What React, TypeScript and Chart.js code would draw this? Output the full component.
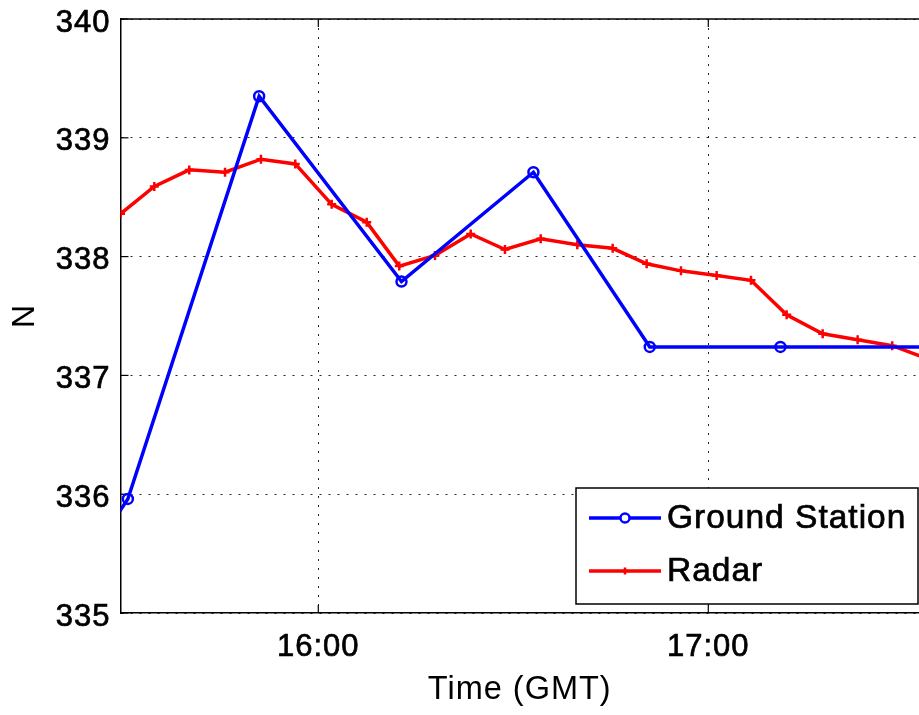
import React, { useEffect, useRef } from 'react';
import { Chart, registerables } from 'chart.js';

Chart.register(...registerables);

// time axis values are minutes after 15:00 GMT
const radarTimes = [29.57, 34.77, 40.15, 45.65, 51.18, 56.46, 62.06, 67.45, 72.46, 77.95, 83.45, 88.72, 94.22, 99.85, 105.29, 110.52, 115.8, 121.29, 126.57, 132.06, 137.6, 142.98, 148.3, 153.7];
const radarN = [338.36, 338.59, 338.73, 338.71, 338.82, 338.78, 338.44, 338.29, 337.92, 338.01, 338.19, 338.06, 338.15, 338.1, 338.07, 337.94, 337.88, 337.84, 337.8, 337.51, 337.35, 337.3, 337.25, 337.14];
const groundTimes = [10.7, 30.7, 50.9, 72.8, 93.1, 111.0, 131.1, 156.0];
const groundN = [334.3, 335.96, 339.35, 337.79, 338.71, 337.24, 337.24, 337.24];
const xTickValues = [60, 120];
const xTickLabels = ['16:00', '17:00'];
const yTickValues = [335, 336, 337, 338, 339, 340];
const xMin = 29.57;
const xMax = 152.42;
const yMin = 335;
const yMax = 340;

const FONT = '"Liberation Sans", Arial, Helvetica, sans-serif';

const spacingPlugin = {
  id: 'letterSpacing',
  beforeLayout(chart: any) {
    (chart.ctx as any).letterSpacing = '1px';
  },
  beforeDraw(chart: any) {
    (chart.ctx as any).letterSpacing = '1px';
  },
};

const framePlugin = {
  id: 'matlabFrame',
  beforeDatasetsDraw(chart: any) {
    const { ctx, chartArea, scales } = chart;
    const { left, right, top, bottom } = chartArea;
    ctx.save();
    ctx.strokeStyle = '#000';
    ctx.lineWidth = 1.5;
    ctx.beginPath();
    ctx.moveTo(left, top);
    ctx.lineTo(right + 2, top);
    ctx.stroke();
    ctx.lineWidth = 1.2;
    const tl = 8;
    xTickValues.forEach((v) => {
      const px = scales.x.getPixelForValue(v);
      ctx.beginPath();
      ctx.moveTo(px, bottom);
      ctx.lineTo(px, bottom - tl);
      ctx.moveTo(px, top);
      ctx.lineTo(px, top + tl);
      ctx.stroke();
    });
    yTickValues.forEach((v) => {
      const py = scales.y.getPixelForValue(v);
      ctx.beginPath();
      ctx.moveTo(left, py);
      ctx.lineTo(left + tl, py);
      ctx.stroke();
    });
    ctx.restore();
  },
};

const legendPlugin = {
  id: 'matlabLegend',
  afterDraw(chart: any) {
    const { ctx, chartArea } = chart;
    const w = 342;
    const h = 116;
    const right = chartArea.right - 1;
    const bottom = chartArea.bottom - 9;
    const left = right - w;
    const top = bottom - h;
    ctx.save();
    ctx.letterSpacing = '1px';
    ctx.fillStyle = '#fff';
    ctx.fillRect(left, top, w, h);
    ctx.strokeStyle = '#000';
    ctx.lineWidth = 1.5;
    ctx.strokeRect(left, top, w, h);
    const rows = [30, 83];
    chart.data.datasets.forEach((ds: any, i: number) => {
      const y = top + rows[i];
      ctx.strokeStyle = ds.borderColor;
      ctx.lineWidth = 3.5;
      ctx.beginPath();
      ctx.moveTo(left + 13, y);
      ctx.lineTo(left + 85, y);
      ctx.stroke();
      const cx = left + 49;
      ctx.lineWidth = 2.5;
      if (ds.pointStyle === 'circle') {
        ctx.beginPath();
        ctx.arc(cx, y, 4.5, 0, Math.PI * 2);
        ctx.fillStyle = '#fff';
        ctx.fill();
        ctx.stroke();
      } else {
        ctx.beginPath();
        ctx.moveTo(cx - 3.5, y);
        ctx.lineTo(cx + 3.5, y);
        ctx.moveTo(cx, y - 3.5);
        ctx.lineTo(cx, y + 3.5);
        ctx.stroke();
      }
      ctx.fillStyle = '#000';
      ctx.strokeStyle = '#000';
      ctx.lineWidth = 0.7;
      ctx.font = `33.5px ${FONT}`;
      ctx.textBaseline = 'middle';
      ctx.textAlign = 'left';
      ctx.fillText(ds.label, left + 91, y + 1);
      ctx.strokeText(ds.label, left + 91, y + 1);
    });
    ctx.restore();
  },
};

export default function App() {
  const canvasRef = useRef<HTMLCanvasElement | null>(null);

  useEffect(() => {
    document.body.style.margin = '0';
    const canvas = canvasRef.current;
    if (!canvas) return;
    const chart = new Chart(canvas, {
      type: 'line',
      data: {
        datasets: [
          {
            label: 'Ground Station',
            data: groundTimes.map((t, i) => ({ x: t, y: groundN[i] })),
            borderColor: '#0000ff',
            backgroundColor: 'rgba(255,255,255,0)',
            borderWidth: 3.5,
            pointStyle: 'circle',
            pointRadius: 5,
            pointBorderWidth: 2.5,
            pointBackgroundColor: 'rgba(255,255,255,0)',
            pointBorderColor: '#0000ff',
            tension: 0,
          },
          {
            label: 'Radar',
            data: radarTimes.map((t, i) => ({ x: t, y: radarN[i] })),
            borderColor: '#ff0000',
            backgroundColor: 'rgba(255,255,255,0)',
            borderWidth: 3.5,
            pointStyle: 'cross',
            pointRadius: 4.5,
            pointBorderWidth: 2.5,
            pointBorderColor: '#ff0000',
            tension: 0,
          },
        ],
      },
      options: {
        animation: false,
        responsive: false,
        devicePixelRatio: 1,
        layout: { autoPadding: false, padding: { top: 19, left: 0, right: 0, bottom: 0 } },
        plugins: {
          legend: { display: false },
          tooltip: { enabled: false },
        },
        scales: {
          x: {
            type: 'linear',
            min: xMin,
            max: xMax,
            afterBuildTicks: (scale: any) => {
              scale.ticks = xTickValues.map((v) => ({ value: v }));
            },
            afterFit: (scale: any) => {
              scale.height = 102;
              scale.paddingLeft = 0;
              scale.paddingRight = 0;
            },
            ticks: {
              padding: 16,
              color: '#000',
              textStrokeColor: '#000',
              textStrokeWidth: 0.7,
              font: { family: FONT, size: 31 },
              maxRotation: 0,
              autoSkip: false,
              callback: (v: any) => {
                const idx = xTickValues.indexOf(Number(v));
                return idx >= 0 ? xTickLabels[idx] : '';
              },
            },
            grid: {
              color: 'rgba(0,0,0,0.85)',
              lineWidth: 1,
              drawTicks: false,
            },
            border: { display: true, color: '#000', width: 1.5, dash: [2, 7] },
            title: {
              display: true,
              text: 'Time (GMT)',
              color: '#000',
              font: { family: FONT, size: 32.5 },
              padding: { top: 5.8, bottom: 5.8 },
            },
          },
          y: {
            type: 'linear',
            min: yMin,
            max: yMax,
            afterBuildTicks: (scale: any) => {
              scale.ticks = yTickValues.map((v) => ({ value: v }));
            },
            afterFit: (scale: any) => {
              scale.width = 120.5;
              scale.paddingTop = 0;
              scale.paddingBottom = 0;
            },
            ticks: {
              padding: 10,
              labelOffset: 4,
              color: '#000',
              textStrokeColor: '#000',
              textStrokeWidth: 0.7,
              font: { family: FONT, size: 31 },
              callback: (v: any) => String(v),
            },
            grid: {
              color: 'rgba(0,0,0,0.85)',
              lineWidth: 1,
              drawTicks: false,
            },
            border: { display: true, color: '#000', width: 1.5, dash: [2, 7] },
            title: {
              display: true,
              text: 'N',
              color: '#000',
              font: { family: FONT, size: 32 },
              padding: { top: 6.3, bottom: 12.8 },
            },
          },
        },
      },
      plugins: [spacingPlugin, framePlugin, legendPlugin],
    } as any);
    return () => {
      chart.destroy();
    };
  }, []);

  return (
    <div style={{ width: 919, height: 715, overflow: 'hidden', background: '#fff' }}>
      <canvas ref={canvasRef} width={919} height={715} style={{ display: 'block' }} />
    </div>
  );
}
